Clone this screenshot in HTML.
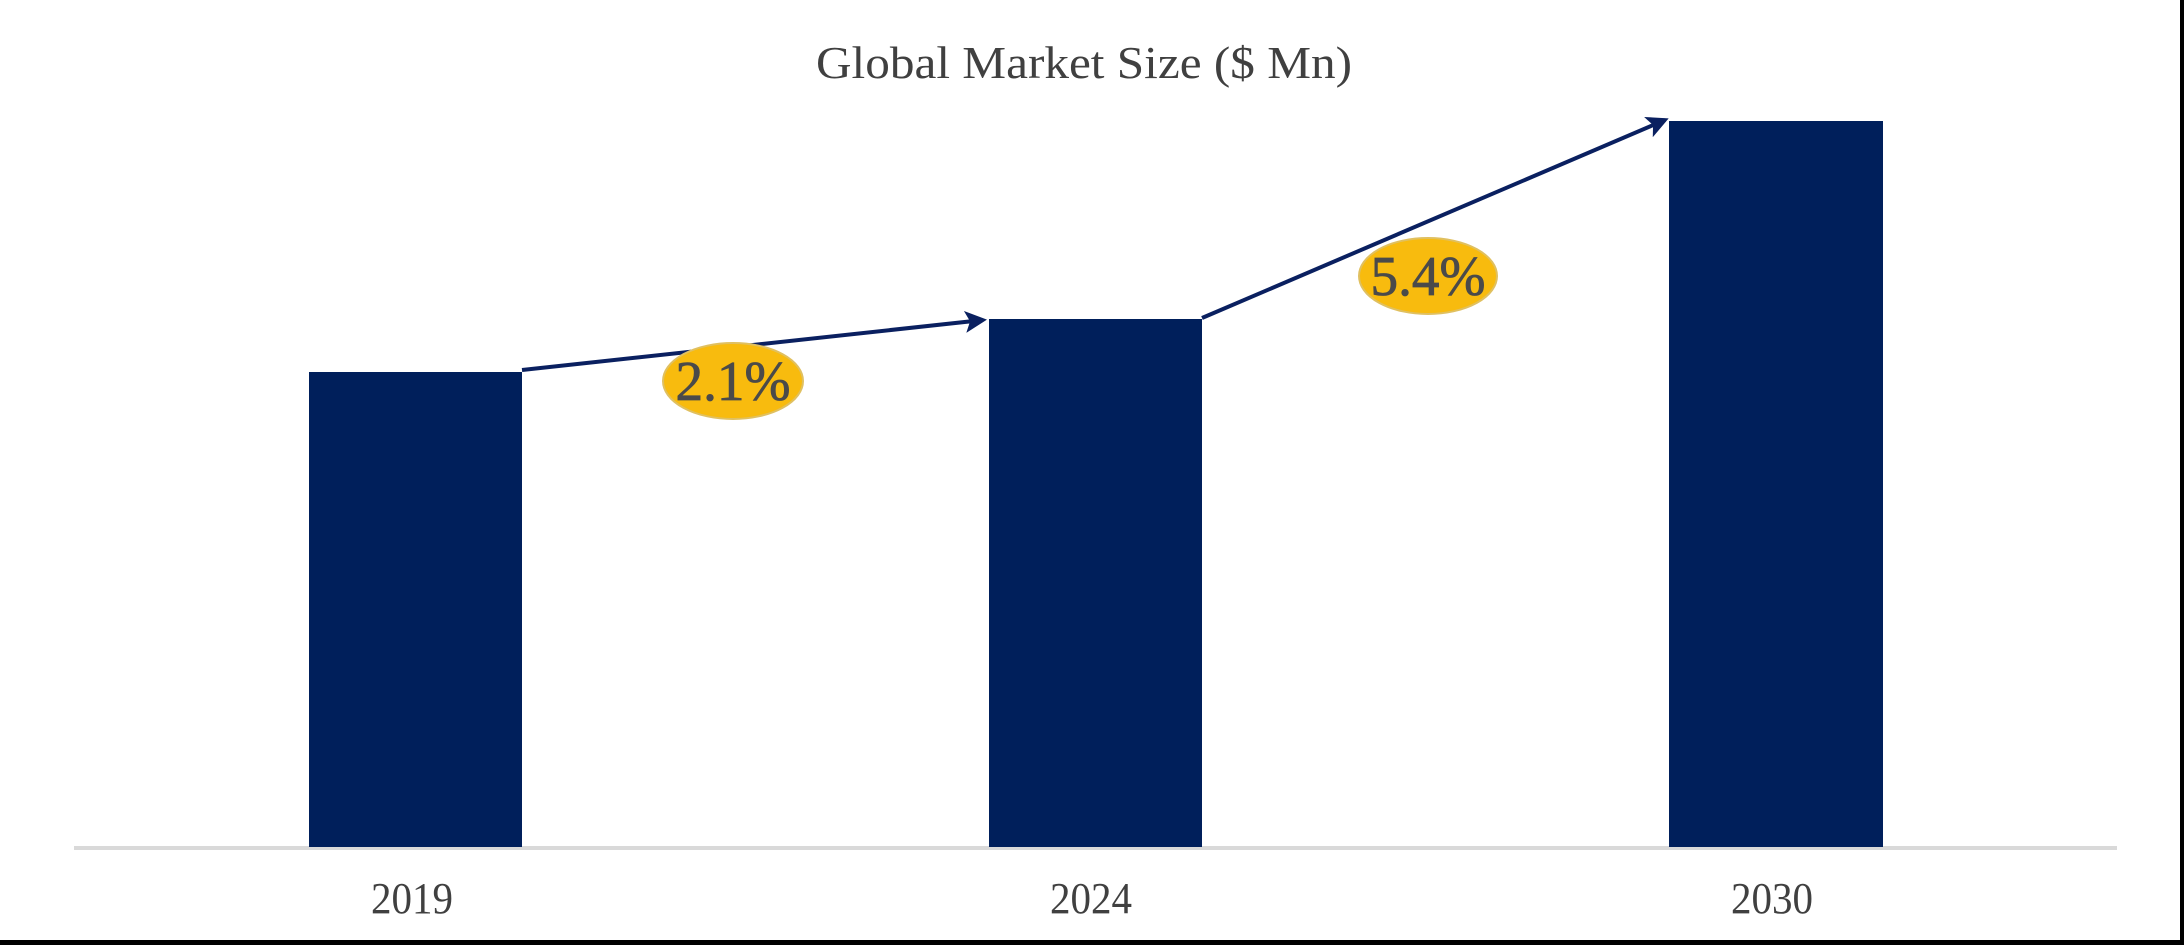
<!DOCTYPE html>
<html><head><style>
html,body{margin:0;padding:0;background:#fff;}
svg{display:block;}
</style></head><body>
<svg width="2184" height="945" viewBox="0 0 2184 945" xmlns="http://www.w3.org/2000/svg">
<rect x="0" y="0" width="2184" height="945" fill="#fff"/>
<defs>
<marker id="ah2" markerWidth="22" markerHeight="22" refX="18" refY="11" orient="auto" markerUnits="userSpaceOnUse">
<path d="M0,0 L22,11 L0,22 L5,11 z" fill="#0a2060"/>
</marker>
</defs>
<text x="1084" y="78" text-anchor="middle" font-family="Liberation Serif, serif" font-size="46" fill="#404040" textLength="536" lengthAdjust="spacingAndGlyphs">Global Market Size ($ Mn)</text>
<line x1="74" y1="848" x2="2117" y2="848" stroke="#d9d9d9" stroke-width="4"/>
<rect x="309" y="372" width="213" height="475" fill="#001f5b"/>
<rect x="989" y="319" width="213" height="528" fill="#001f5b"/>
<rect x="1669" y="121" width="214" height="726" fill="#001f5b"/>
<line x1="522" y1="370" x2="983" y2="320" stroke="#0a2060" stroke-width="4" marker-end="url(#ah2)"/>
<line x1="1202" y1="318" x2="1665" y2="120" stroke="#0a2060" stroke-width="4" marker-end="url(#ah2)"/>
<ellipse cx="733" cy="381" rx="70" ry="38" fill="#f8bb0e" stroke="#e0c060" stroke-width="2"/>
<ellipse cx="1428" cy="276" rx="69" ry="38" fill="#f8bb0e" stroke="#e0c060" stroke-width="2"/>
<text x="733" y="400" text-anchor="middle" font-family="Liberation Serif, serif" font-size="56" fill="#4a4a4a" stroke="#4a4a4a" stroke-width="0.8" textLength="115" lengthAdjust="spacingAndGlyphs">2.1%</text>
<text x="1428" y="295" text-anchor="middle" font-family="Liberation Serif, serif" font-size="56" fill="#4a4a4a" stroke="#4a4a4a" stroke-width="0.8" textLength="115" lengthAdjust="spacingAndGlyphs">5.4%</text>
<text x="412" y="913" text-anchor="middle" font-family="Liberation Serif, serif" font-size="44" fill="#404040" textLength="82" lengthAdjust="spacingAndGlyphs">2019</text>
<text x="1091" y="913" text-anchor="middle" font-family="Liberation Serif, serif" font-size="44" fill="#404040" textLength="82" lengthAdjust="spacingAndGlyphs">2024</text>
<text x="1772" y="913" text-anchor="middle" font-family="Liberation Serif, serif" font-size="44" fill="#404040" textLength="82" lengthAdjust="spacingAndGlyphs">2030</text>
<rect x="0" y="940" width="2184" height="5" fill="#000"/>
<rect x="2180" y="0" width="4" height="945" fill="#000"/>
</svg>
</body></html>
